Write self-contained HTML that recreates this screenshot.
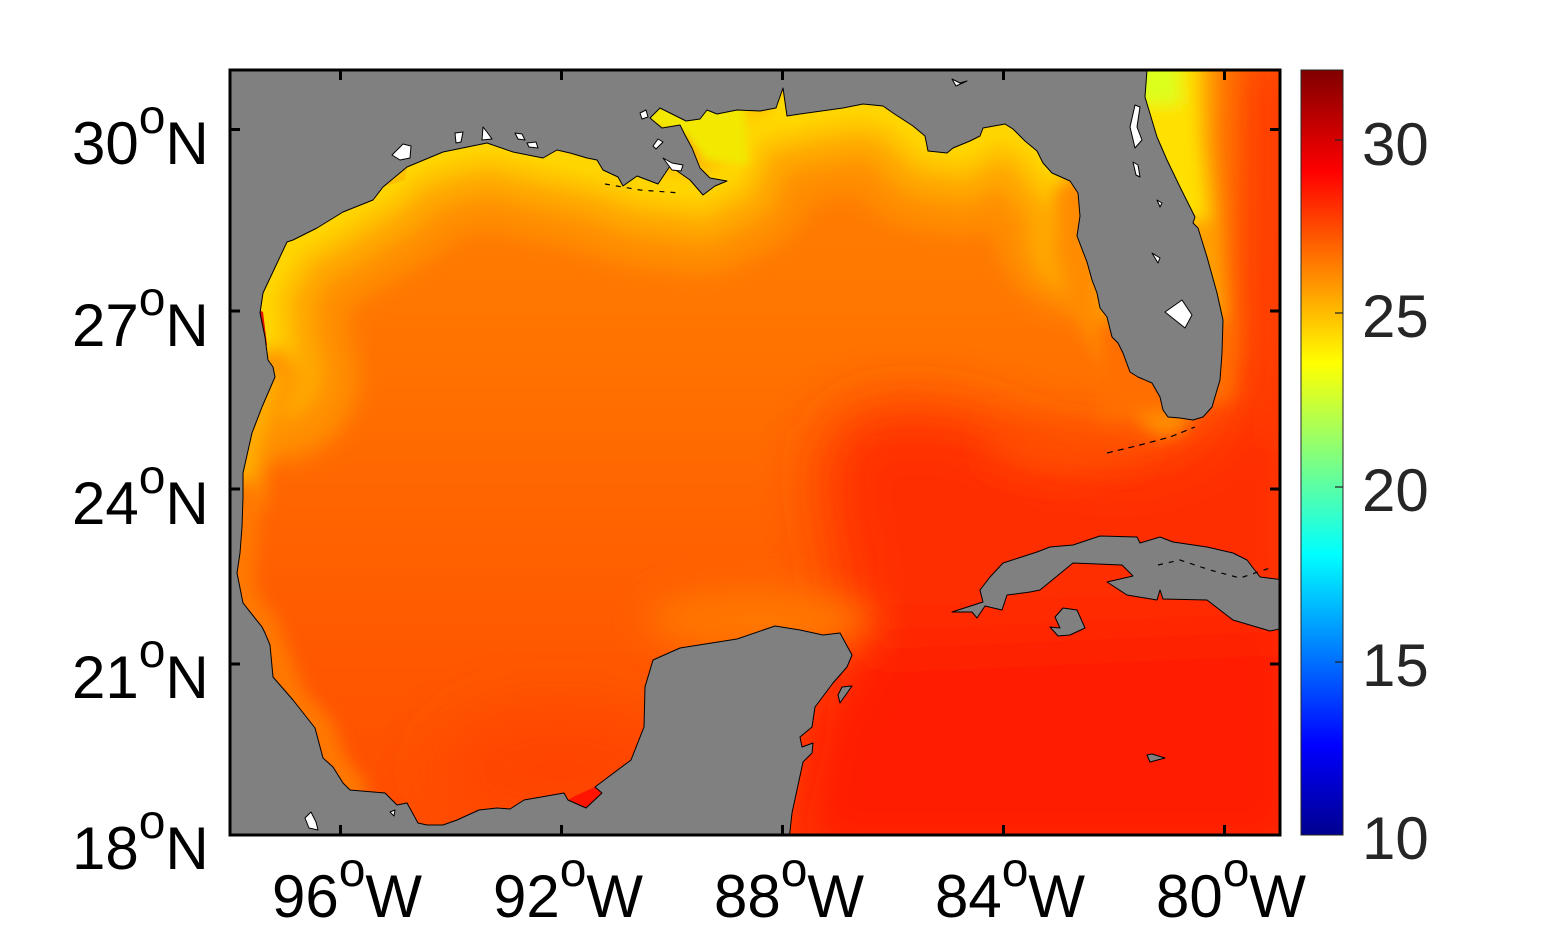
<!DOCTYPE html>
<html><head><meta charset="utf-8">
<style>
html,body{margin:0;padding:0;background:#fff;width:1563px;height:938px;overflow:hidden}
svg{display:block}
</style></head><body>
<svg width="1563" height="938" viewBox="0 0 1563 938" xmlns="http://www.w3.org/2000/svg" font-family="'Liberation Sans', Arial, sans-serif">
<defs>
  <clipPath id="ax"><rect x="230" y="70" width="1050" height="765"/></clipPath>
  <filter id="b30" filterUnits="userSpaceOnUse" x="0" y="0" width="1563" height="938"><feGaussianBlur stdDeviation="30"/></filter>
  <filter id="b18" filterUnits="userSpaceOnUse" x="0" y="0" width="1563" height="938"><feGaussianBlur stdDeviation="18"/></filter>
  <filter id="b12" filterUnits="userSpaceOnUse" x="0" y="0" width="1563" height="938"><feGaussianBlur stdDeviation="12"/></filter>
  <filter id="b8" filterUnits="userSpaceOnUse" x="0" y="0" width="1563" height="938"><feGaussianBlur stdDeviation="8"/></filter>
  <filter id="b4" filterUnits="userSpaceOnUse" x="0" y="0" width="1563" height="938"><feGaussianBlur stdDeviation="4"/></filter>
  <linearGradient id="gv" x1="0" y1="70" x2="0" y2="835" gradientUnits="userSpaceOnUse">
    <stop offset="0" stop-color="#FF8400"/>
    <stop offset="0.35" stop-color="#FF7400"/>
    <stop offset="0.55" stop-color="#FF6600"/>
    <stop offset="0.75" stop-color="#FF5900"/>
    <stop offset="1" stop-color="#FF4C00"/>
  </linearGradient>
  <linearGradient id="cb" x1="0" y1="1" x2="0" y2="0">
    <stop offset="0" stop-color="#00008F"/>
    <stop offset="0.117" stop-color="#0000FF"/>
    <stop offset="0.367" stop-color="#00FFFF"/>
    <stop offset="0.617" stop-color="#FFFF00"/>
    <stop offset="0.867" stop-color="#FF0000"/>
    <stop offset="1" stop-color="#800000"/>
  </linearGradient>
</defs>

<!-- SEA FIELD -->
<g clip-path="url(#ax)">
  <rect x="230" y="70" width="1050" height="765" fill="url(#gv)"/>
  <g filter="url(#b30)">
    <polygon points="830,430 880,405 960,410 1050,445 1130,455 1200,430 1240,380 1240,40 1320,40 1320,870 780,870 800,720 845,650 835,560 820,480" fill="#FF2E00"/>
    <polygon points="1235,40 1320,40 1320,450 1235,450" fill="#FF3600"/>
    <polygon points="870,640 1320,620 1320,870 790,870 800,700" fill="#FF1E00"/>
    <ellipse cx="560" cy="770" rx="120" ry="60" fill="#FF4400"/>
  </g>
  <g filter="url(#b18)">
    <polygon points="1000,425 1100,430 1150,450 1060,470 990,455" fill="#FF5000"/>
    <ellipse cx="760" cy="620" rx="115" ry="30" fill="#FF7800"/>
  </g>
  <g filter="url(#b12)" fill="none" stroke-linejoin="round" stroke-linecap="round">
    <path d="M 275,377 L 268,360 L 265,337 L 263,293 L 290,245 L 345,212 L 385,187 L 410,165 L 445,152 L 490,143 L 540,155 L 600,168 L 640,182 L 700,190 L 730,175 L 750,130 L 800,116 L 860,106 L 895,115 L 930,145 L 960,150 L 1000,128 L 1030,142 L 1055,172 L 1078,200 L 1080,230" stroke="#FF9000" stroke-width="165"/>
  </g>
  <g filter="url(#b8)" fill="none" stroke-linejoin="round" stroke-linecap="round">
    <path d="M 272,370 L 265,337 L 263,293 L 290,245 L 345,212 L 385,187 L 410,165 L 445,152 L 490,143 L 540,155 L 600,168 L 640,182 L 700,190 L 730,175 L 750,130 L 800,116 L 860,106 L 895,115 L 930,145 L 960,150 L 1000,128 L 1030,142 L 1055,172 L 1078,200 L 1080,240" stroke="#FFA600" stroke-width="105"/>
    <path d="M 268,360 L 263,293 L 290,245 L 345,212 L 385,187 L 410,165 L 445,152 L 490,143 L 540,155 L 600,168 L 640,182 L 700,190 L 730,175 L 750,130 L 800,116 L 860,106 L 895,115 L 930,145 L 960,150 L 1000,128 L 1030,142 L 1055,172 L 1078,200 L 1080,230" stroke="#FFC200" stroke-width="58"/>
    <path d="M 268,350 L 263,293 L 290,245 L 345,212 L 385,187 L 410,165 L 445,152 L 490,143 L 540,155 L 600,168 L 640,182 L 700,190 L 730,175 L 750,130 L 800,116 L 860,106 L 895,115 L 930,145 L 960,150 L 1000,128 L 1030,142 L 1055,172" stroke="#FFD800" stroke-width="22"/>
    <path d="M 1078,200 L 1080,240 L 1087,275 L 1100,310 L 1120,345 L 1140,375 L 1165,412" stroke="#FF8C00" stroke-width="50"/>
    <path d="M 272,370 L 262,407 L 252,433 L 243,473 L 243,497" stroke="#FF9400" stroke-width="44"/>
    <path d="M 243,497 L 242,527 L 240,553 L 237,573 L 243,603 L 262,627 L 270,650 L 290,700 L 318,730 L 330,765 L 350,790" stroke="#FF7800" stroke-width="34"/>
    <path d="M 270,380 L 262,407 L 252,433 L 243,473" stroke="#FFB000" stroke-width="18"/>
  </g>
  <g filter="url(#b4)">
    <polygon points="645,104 745,104 748,165 705,160 685,135 645,126" fill="#F2E800"/>
    <polygon points="775,90 800,100 800,125 770,120" fill="#FFD800"/>
  </g>
  <g filter="url(#b8)">
    <polygon points="1100,50 1236,50 1234,180 1234,260 1238,340 1232,400 1100,420" fill="#FF6E00"/>
    <polygon points="1100,50 1218,50 1216,140 1220,200 1222,260 1226,320 1100,320" fill="#FFA000"/>
    <polygon points="1100,50 1198,50 1200,140 1208,220 1100,220" fill="#FFE000"/>
    <polygon points="1100,50 1178,50 1182,105 1100,105" fill="#DCFF1C"/>
  </g>
  <polygon points="255,308 263,312 267,345 260,350 255,330" fill="#E01000"/>
  <polygon points="243,603 262,627 265,633 258,640 247,620" fill="#FF2000" stroke="#000" stroke-width="0.8"/>
  <polygon points="762,813 780,787 784,806 790,815 788,836 778,836 780,818" fill="#FF1400"/>
  <polygon points="568,800 586,808 602,793 595,787 575,796" fill="#FF1400"/>
  <polygon points="383,187 395,178 407,167 405,180" fill="#FFC000"/>
  <polygon points="925,136 940,132 947,148 930,150" fill="#FFC000"/>
</g>

<!-- LAND -->
<g clip-path="url(#ax)" stroke="#000" stroke-width="1" stroke-linejoin="round">
  <path fill="#808080" d="M 226,66 L 1147,66 L 1147,70 L 1145,97 L 1148,107 L 1157,137 L 1167,160 L 1180,187 L 1195,217 L 1193,223 L 1198,228 L 1207,257 L 1217,293 L 1223,320 L 1222,353 L 1220,380 L 1212,407 L 1203,417 L 1193,420 L 1180,418 L 1168,417 L 1163,410 L 1160,397 L 1152,383 L 1138,377 L 1130,372 L 1123,353 L 1118,343 L 1112,337 L 1107,317 L 1100,308 L 1097,293 L 1092,280 L 1087,262 L 1077,236 L 1080,216 L 1078,193 L 1070,181 L 1052,173 L 1043,163 L 1037,151 L 1025,141 L 1013,129 L 1005,124 L 983,128 L 980,136 L 970,141 L 953,148 L 947,153 L 928,151 L 925,136 L 913,126 L 893,113 L 883,106 L 863,104 L 843,108 L 800,114 L 787,116 L 783,88 L 776,108 L 760,111 L 737,110 L 717,114 L 707,110 L 700,119 L 686,121 L 660,108 L 650,118 L 662,128 L 680,125 L 685,135 L 692,148 L 700,168 L 710,178 L 727,181 L 715,186 L 703,195 L 690,180 L 670,166 L 658,184 L 637,176 L 623,186 L 618,177 L 603,170 L 597,160 L 587,158 L 570,153 L 557,150 L 543,158 L 513,152 L 487,143 L 443,152 L 407,167 L 383,187 L 373,200 L 343,212 L 317,228 L 293,240 L 287,242 L 263,293 L 260,313 L 265,337 L 268,360 L 273,367 L 275,377 L 262,407 L 252,433 L 243,473 L 243,497 L 242,527 L 240,553 L 237,573 L 243,603 L 262,627 L 265,633 L 270,645 L 273,677 L 293,700 L 315,728 L 323,758 L 333,767 L 343,783 L 350,790 L 385,793 L 397,805 L 407,803 L 418,823 L 427,825 L 443,825 L 457,820 L 479,810 L 497,808 L 510,809 L 524,800 L 564,793 L 568,800 L 586,808 L 602,793 L 595,787 L 631,760 L 644,727 L 645,687 L 653,660 L 680,648 L 737,639 L 775,626 L 800,630 L 823,635 L 840,633 L 852,655 L 847,667 L 833,683 L 815,707 L 812,727 L 800,737 L 802,747 L 813,743 L 812,753 L 803,762 L 792,813 L 789,840 L 226,840 Z"/>
  <path fill="#808080" d="M 952,612 L 983,602 L 980,590 L 990,577 L 1003,563 L 1037,552 L 1050,547 L 1073,545 L 1100,536 L 1137,537 L 1140,543 L 1160,537 L 1173,542 L 1207,547 L 1233,553 L 1247,560 L 1260,577 L 1284,580 L 1284,628 L 1270,631 L 1233,620 L 1207,600 L 1163,599 L 1160,590 L 1157,600 L 1127,595 L 1107,582 L 1133,576 L 1122,565 L 1073,563 L 1040,590 L 1030,592 L 1007,595 L 1002,610 L 985,606 L 977,618 L 972,612 Z"/>
  <path fill="#808080" d="M 1055,617 L 1063,608 L 1077,610 L 1085,628 L 1070,635 L 1058,636 L 1050,627 L 1060,628 Z"/>
  <path fill="#808080" d="M 838,695 L 842,687 L 852,686 L 840,703 Z"/>
  <path fill="#808080" d="M 1147,755 L 1150,762 L 1165,758 L 1152,754 Z"/>
  <g fill="#fff">
    <path d="M 1165,312 L 1182,300 L 1192,315 L 1185,328 Z"/>
    <path d="M 1135,105 L 1140,107 L 1137,127 L 1142,140 L 1135,148 L 1130,127 Z"/>
    <path d="M 1133,162 L 1138,165 L 1140,177 L 1136,175 Z"/>
    <path d="M 1157,200 L 1162,203 L 1160,207 Z"/>
    <path d="M 1152,253 L 1160,258 L 1158,263 Z"/>
    <path d="M 392,155 L 403,144 L 411,146 L 410,158 L 400,160 Z"/>
    <path d="M 455,133 L 463,132 L 461,142 L 456,143 Z"/>
    <path d="M 483,127 L 487,132 L 492,139 L 482,140 Z"/>
    <path d="M 515,133 L 522,134 L 525,140 L 518,139 Z"/>
    <path d="M 527,143 L 536,142 L 538,148 L 529,147 Z"/>
    <path d="M 640,113 L 646,110 L 648,117 L 642,119 Z"/>
    <path d="M 653,146 L 658,139 L 663,142 L 656,149 Z"/>
    <path d="M 663,158 L 672,163 L 683,165 L 681,171 L 672,170 Z"/>
    <path d="M 952,79 L 960,83 L 967,81 L 956,86 Z"/>
    <path d="M 305,818 L 311,812 L 316,822 L 318,830 L 309,828 Z"/>
    <path d="M 390,812 L 395,810 L 394,816 Z"/>
  </g>
</g>
<g clip-path="url(#ax)" fill="none" stroke="#000" stroke-width="1.2">
  <path d="M 1107,453 L 1140,445 L 1170,437 L 1195,427" stroke-dasharray="6,5"/>
  <path d="M 1158,565 L 1180,560 L 1210,570 L 1240,578 L 1270,568" stroke-dasharray="5,6"/>
  <path d="M 605,184 L 640,190 L 680,193" stroke-dasharray="5,6"/>
</g>

<!-- AXES BOX & TICKS -->
<g stroke="#000" fill="none">
  <rect x="230" y="70" width="1050" height="765" stroke-width="3"/>
  <g stroke-width="3">
    <path d="M 340.5,70 v10 M 561.5,70 v10 M 782.5,70 v10 M 1003.5,70 v10 M 1224.5,70 v10"/>
    <path d="M 340.5,835 v-10 M 561.5,835 v-10 M 782.5,835 v-10 M 1003.5,835 v-10 M 1224.5,835 v-10"/>
    <path d="M 230,129.5 h10 M 230,311 h10 M 230,489 h10 M 230,664 h10"/>
    <path d="M 1280,129.5 h-10 M 1280,311 h-10 M 1280,489 h-10 M 1280,664 h-10"/>
  </g>
</g>

<!-- Y LABELS -->
<g fill="#000">
  <text font-size="60" x="72" y="164">30</text><text font-size="48" x="138.7" y="133">o</text><text font-size="60" x="165.4" y="164">N</text>
  <text font-size="60" x="72" y="346">27</text><text font-size="48" x="138.7" y="315">o</text><text font-size="60" x="165.4" y="346">N</text>
  <text font-size="60" x="72" y="524">24</text><text font-size="48" x="138.7" y="493">o</text><text font-size="60" x="165.4" y="524">N</text>
  <text font-size="60" x="72" y="698">21</text><text font-size="48" x="138.7" y="667">o</text><text font-size="60" x="165.4" y="698">N</text>
  <text font-size="60" x="72" y="869">18</text><text font-size="48" x="138.7" y="838">o</text><text font-size="60" x="165.4" y="869">N</text>
</g>

<!-- X LABELS -->
<g fill="#000">
  <text font-size="60" x="272" y="917">96</text><text font-size="48" x="338.7" y="886">o</text><text font-size="60" x="365.4" y="917">W</text>
  <text font-size="60" x="493" y="917">92</text><text font-size="48" x="559.7" y="886">o</text><text font-size="60" x="586.4" y="917">W</text>
  <text font-size="60" x="714" y="917">88</text><text font-size="48" x="780.7" y="886">o</text><text font-size="60" x="807.4" y="917">W</text>
  <text font-size="60" x="935" y="917">84</text><text font-size="48" x="1001.7" y="886">o</text><text font-size="60" x="1028.4" y="917">W</text>
  <text font-size="60" x="1156" y="917">80</text><text font-size="48" x="1222.7" y="886">o</text><text font-size="60" x="1249.4" y="917">W</text>
</g>

<!-- COLORBAR -->
<rect x="1301" y="70" width="42" height="765" fill="url(#cb)" stroke="#262626" stroke-width="1"/>
<g stroke="#262626" stroke-width="1.2">
  <path d="M 1343,140 h-8 M 1343,313 h-8 M 1343,487 h-8 M 1343,662 h-8"/>
</g>
<g fill="#262626" font-size="60">
  <text x="1362" y="165">30</text>
  <text x="1362" y="337">25</text>
  <text x="1362" y="511">20</text>
  <text x="1362" y="686">15</text>
  <text x="1362" y="859">10</text>
</g>
</svg>
</body></html>
